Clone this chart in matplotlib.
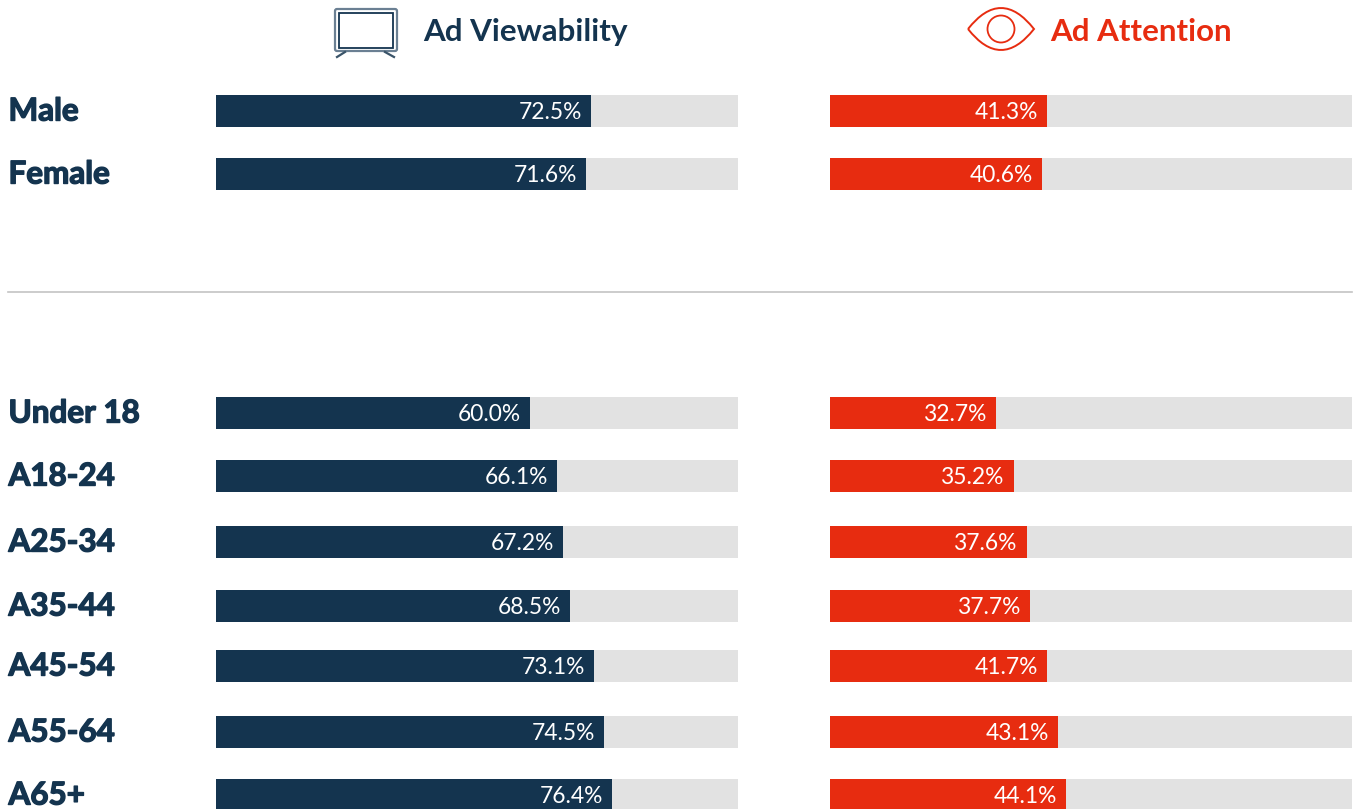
import matplotlib
matplotlib.use('Agg')
import matplotlib.pyplot as plt
import matplotlib.patheffects as pe
from matplotlib.patches import Rectangle, Circle, PathPatch, FancyBboxPatch
from matplotlib.path import Path

# data
categorias = ['Male', 'Female', 'Under 18', 'A18-24', 'A25-34', 'A35-44', 'A45-54', 'A55-64', 'A65+']
viewability = [72.5, 71.6, 60.0, 66.1, 67.2, 68.5, 73.1, 74.5, 76.4]
attention = [41.3, 40.6, 32.7, 35.2, 37.6, 37.7, 41.7, 43.1, 44.1]
titulos = ['Ad Viewability', 'Ad Attention']

# filled share of each track as drawn in the picture (not quite the printed value)
barra_view = [71.8, 70.9, 60.2, 65.3, 66.5, 67.8, 72.4, 74.3, 75.9]
barra_att = [41.6, 40.6, 31.8, 35.2, 37.7, 38.3, 41.6, 43.7, 45.2]

# rows sit unevenly in the picture, top pixel of each bar
linhas = [95, 158, 397, 460, 526, 590, 650, 716, 779]

AZUL = '#14344f'
VERMELHO = '#e72c10'
CINZA = '#e2e2e2'

W, H = 1356, 809
plt.rcParams['font.family'] = ['Lato', 'DejaVu Sans']
fig = plt.figure(figsize=(W / 100, H / 100), dpi=100)
ax = fig.add_axes([0, 0, 1, 1])
ax.set_xlim(0, W)
ax.set_ylim(H, 0)
ax.axis('off')

altura = 32
x_view, x_att = 216, 830
largura = 522
grosso = [pe.withStroke(linewidth=1.0, foreground=AZUL)]

for i, nome in enumerate(categorias):
    y = linhas[i]
    ax.text(8.5, y + 16.5, nome, color=AZUL, fontsize=22.6, fontweight='bold', va='center', ha='left',
            path_effects=grosso)
    for x0, vals, barras, cor in [(x_view, viewability, barra_view, AZUL),
                                  (x_att, attention, barra_att, VERMELHO)]:
        ax.add_patch(Rectangle((x0, y), largura, altura, color=CINZA, lw=0))
        w = barras[i] / 100 * largura
        ax.add_patch(Rectangle((x0, y), w, altura, color=cor, lw=0))
        ax.text(x0 + w - 9, y + 17.5, '%.1f%%' % vals[i], color='white', fontsize=16.4,
                ha='right', va='center', fontweight='normal')

# divider
ax.plot([8, 1352], [291.5, 291.5], color='#c4c4c4', lw=1.2)

# headers
ax.text(423.5, 31.5, titulos[0], color=AZUL, fontsize=22.6, fontweight='bold', va='center')
ax.text(1050.5, 31.5, titulos[1], color=VERMELHO, fontsize=22.5, fontweight='bold', va='center')

# tv icon
ax.add_patch(FancyBboxPatch((335, 9), 62, 42, boxstyle='round,pad=0,rounding_size=2',
                            fc='none', ec='#6b8093', lw=1.6))
ax.add_patch(Rectangle((338.5, 13), 54.5, 35, fc='none', ec=AZUL, lw=1.3))
ax.plot([345, 337], [52, 57], color='#3a5469', lw=1.6)
ax.plot([385, 394], [52, 57], color='#3a5469', lw=1.6)

# eye icon
olho = Path([(968, 29), (1001, -13), (1034, 29), (1001, 71), (968, 29)],
            [Path.MOVETO, Path.CURVE3, Path.CURVE3, Path.CURVE3, Path.CURVE3])
ax.add_patch(PathPatch(olho, fc='none', ec=VERMELHO, lw=1.4))
ax.add_patch(Circle((1001, 29), 13.5, fc='none', ec=VERMELHO, lw=1.3))

fig.savefig('out.png', dpi=100)
